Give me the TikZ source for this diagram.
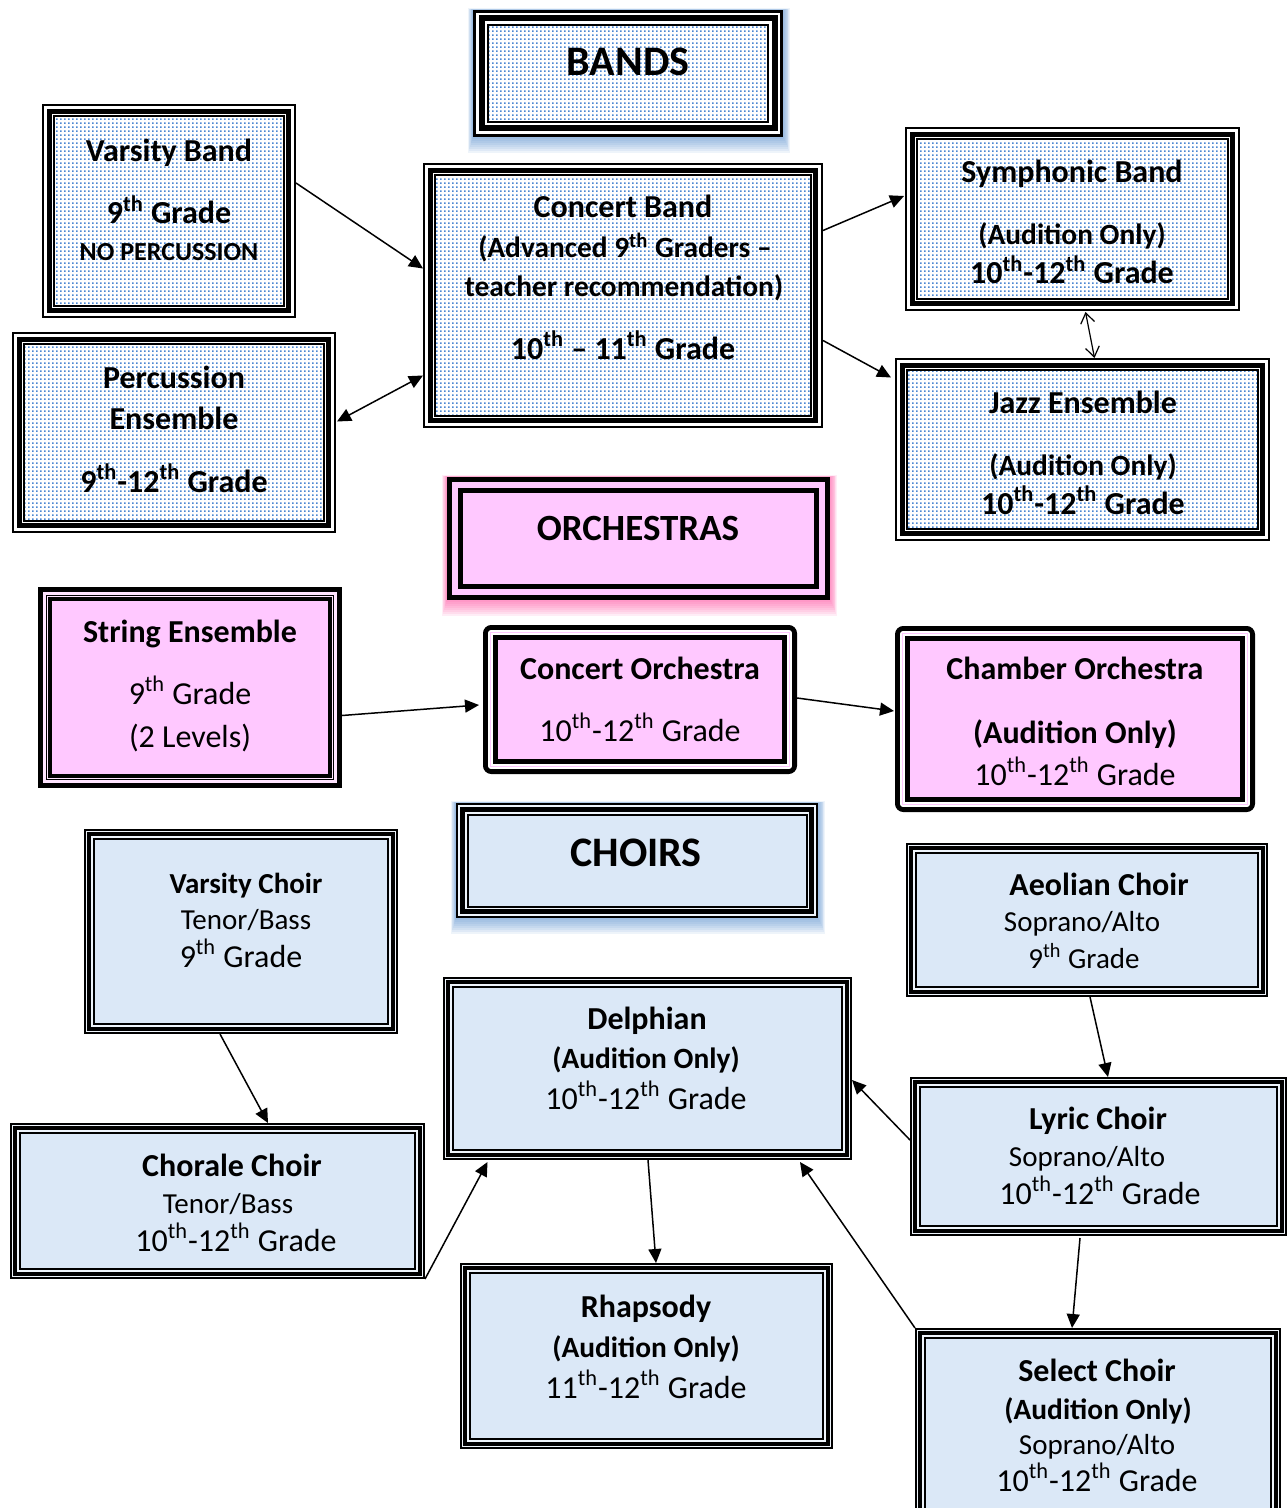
\documentclass[tikz,border=0pt]{standalone}
\usepackage{fontspec}
\setmainfont{Carlito}
\usetikzlibrary{arrows.meta,fit,patterns.meta}
\definecolor{dotblue}{RGB}{75,135,210}
\definecolor{pinkfill}{RGB}{255,200,255}
\definecolor{pinklight}{RGB}{255,228,255}
\definecolor{choirfill}{RGB}{219,232,247}
\definecolor{choirlight}{RGB}{238,244,251}
\definecolor{glowblue}{RGB}{70,130,200}
\definecolor{glowpink}{RGB}{255,60,150}
\tikzdeclarepattern{name=bluedots, type=uncolored,
  bottom left={(0pt,0pt)}, top right={(2pt,2pt)}, tile size={(2pt,2pt)},
  code={\fill (0pt,0pt) rectangle (0.95pt,0.95pt);}}
\newcommand\inrect[3]{\path[#3] ([shift={(#2,#2)}]#1.north west) rectangle ([shift={(-#2,-#2)}]#1.south east);}
\newcommand\glowit[2]{\foreach \i in {1,...,8}{\fill[#2,opacity=0.09] ([shift={(-\i*0.6,-\i*0.2)}]#1.north west) rectangle ([shift={(\i*0.9,\i*2)}]#1.south east);}}
\newcommand\bandbox[5]{%
  \node[box, fit={(#2,#3)(#4,#5)}] (#1) {};
  \inrect{#1}{0}{fill=white}
  \inrect{#1}{12}{pattern=bluedots, pattern color=dotblue}
  \inrect{#1}{1}{draw, line width=1pt}
  \inrect{#1}{7.5}{draw, line width=2.5pt}
  \inrect{#1}{12.4}{draw, line width=1pt}}
\newcommand\choirbox[5]{%
  \node[box, fit={(#2,#3)(#4,#5)}] (#1) {};
  \inrect{#1}{0}{fill=choirlight}
  \inrect{#1}{10}{fill=choirfill}
  \inrect{#1}{0.85}{draw, line width=0.85pt}
  \inrect{#1}{5.2}{draw, line width=1.85pt}
  \inrect{#1}{10}{draw, line width=0.7pt}}
\newcommand\orchbox[5]{%
  \node[box, fit={(#2,#3)(#4,#5)}] (#1) {};
  \inrect{#1}{0}{fill=pinklight}
  \inrect{#1}{10}{fill=pinkfill}
  \inrect{#1}{2.5}{draw, line width=2.5pt}
  \inrect{#1}{8.5}{draw, line width=0.5pt}
  \inrect{#1}{12}{draw, line width=2pt}}
\newcommand\orchround[5]{%
  \node[box, fit={(#2,#3)(#4,#5)}] (#1) {};
  \inrect{#1}{0}{fill=white, rounded corners=4pt}
  \inrect{#1}{10}{fill=pinkfill}
  \inrect{#1}{2.4}{draw, line width=2.4pt, rounded corners=3pt}
  \inrect{#1}{7.5}{draw=pinkfill, line width=0.6pt}
  \inrect{#1}{12.3}{draw, line width=2.3pt}}
\begin{document}
\begin{tikzpicture}[x=0.5pt,y=-0.5pt,
  box/.style={inner sep=0pt, outer sep=0pt},
  ttl/.style={anchor=base, font=\bfseries\fontsize{16}{19}\selectfont},
  aud/.style={anchor=base, font=\bfseries\fontsize{14.7}{18}\selectfont},
  reg/.style={anchor=base, font=\fontsize{16}{19}\selectfont},
  sml/.style={anchor=base, font=\fontsize{14.5}{17}\selectfont},
  smlb/.style={anchor=base, font=\bfseries\fontsize{14.5}{17}\selectfont},
  tiny/.style={anchor=base, font=\bfseries\fontsize{13}{15}\selectfont},
  head/.style={anchor=base, font=\bfseries\fontsize{21}{25}\selectfont},
  conn/.style={line width=0.75pt, -{Triangle[length=7pt,width=6.5pt]}},
  dconn/.style={line width=0.75pt, {Triangle[length=7pt,width=6.5pt]}-{Triangle[length=7pt,width=6.5pt]}},
  oconn/.style={line width=0.6pt, {Straight Barb[length=5pt,width=7pt]}-{Straight Barb[length=5pt,width=7pt]}}]
\useasboundingbox (0,0) rectangle (1287,1508);

% ---------------- BANDS ----------------
\node[box, fit={(473,10)(783,137)}] (bands) {};
\glowit{bands}{glowblue}
\inrect{bands}{0}{fill=white}
\inrect{bands}{16}{pattern=bluedots, pattern color=dotblue}
\inrect{bands}{1.5}{draw, line width=1.5pt}
\inrect{bands}{8.5}{draw, line width=3pt}
\inrect{bands}{15}{draw, line width=1pt}
\node[head] (bandst) at (628,76) {BANDS};

\bandbox{vb}{42}{104}{296}{318}
\node[ttl] (vb1) at (169,162) {Varsity Band};
\node[ttl] (vb2) at (169,224) {9\textsuperscript{th} Grade};
\node[tiny] (vb3) at (169,261) {NO PERCUSSION};

\bandbox{pe}{12}{332}{336}{533}
\node[ttl] (pe1) at (174,388) {Percussion};
\node[ttl] (pe2) at (174,429) {Ensemble};
\node[ttl] (pe3) at (174,492) {9\textsuperscript{th}-12\textsuperscript{th} Grade};

\bandbox{cb}{423}{163}{823}{428}
\node[ttl] (cb1) at (623,218) {Concert Band};
\node[aud] (cb2) at (625,258) {(Advanced 9\textsuperscript{th} Graders –};
\node[aud] (cb3) at (624,297) {teacher recommendation)};
\node[ttl] (cb4) at (623,359) {10\textsuperscript{th} – 11\textsuperscript{th} Grade};

\bandbox{sb}{905}{127}{1240}{311}
\node[ttl] (sb1) at (1072,183) {Symphonic Band};
\node[aud] (sb2) at (1072,245) {(Audition Only)};
\node[ttl] (sb3) at (1072,284) {10\textsuperscript{th}-12\textsuperscript{th} Grade};

\bandbox{je}{895}{358}{1270}{541}
\node[ttl] (je1) at (1083,413) {Jazz Ensemble};
\node[aud] (je2) at (1083,475) {(Audition Only)};
\node[ttl] (je3) at (1083,514) {10\textsuperscript{th}-12\textsuperscript{th} Grade};

% ---------------- ORCHESTRAS ----------------
\node[box, fit={(447,477)(830,600)}] (orch) {};
\glowit{orch}{glowpink}
\inrect{orch}{0}{fill=pinkfill}
\inrect{orch}{2.5}{draw, line width=2.5pt}
\inrect{orch}{13.5}{draw, line width=2.5pt}
\node[head, font=\bfseries\fontsize{18.5}{22}\selectfont] (orcht) at (638,540) {ORCHESTRAS};

\orchbox{se}{38}{587}{342}{788}
\node[ttl] (se1) at (190,642) {String Ensemble};
\node[reg] (se2) at (190,704) {9\textsuperscript{th} Grade};
\node[reg] (se3) at (190,747) {(2 Levels)};

\orchround{co}{483}{625}{797}{774}
\node[ttl] (co1) at (640,679) {Concert Orchestra};
\node[reg] (co2) at (640,741) {10\textsuperscript{th}-12\textsuperscript{th} Grade};

\orchround{ch}{895}{626}{1255}{812}
\node[ttl] (ch1) at (1075,679) {Chamber Orchestra};
\node[ttl] (ch2) at (1075,743) {(Audition Only)};
\node[reg] (ch3) at (1075,785) {10\textsuperscript{th}-12\textsuperscript{th} Grade};

% ---------------- CHOIRS ----------------
\node[box, fit={(456,803)(818,918)}] (choirs) {};
\glowit{choirs}{glowblue}
\inrect{choirs}{0}{fill=choirlight}
\inrect{choirs}{11}{fill=choirfill}
\inrect{choirs}{1}{draw, line width=1pt}
\inrect{choirs}{6.5}{draw, line width=2.5pt}
\inrect{choirs}{11.5}{draw, line width=1pt}
\node[head] (choirst) at (636,866) {CHOIRS};

\choirbox{vc}{84}{829}{398}{1034}
\node[smlb] (vc1) at (246,893) {Varsity Choir};
\node[sml] (vc2) at (246,929) {Tenor/Bass};
\node[reg] (vc3) at (241,967) {9\textsuperscript{th} Grade};

\choirbox{ac}{906}{843}{1268}{997}
\node[ttl] (ac1) at (1099,895) {Aeolian Choir};
\node[sml] (ac2) at (1082,931) {Soprano/Alto};
\node[sml] (ac3) at (1084,968) {9\textsuperscript{th} Grade};

\choirbox{dl}{443}{977}{852}{1160}
\node[ttl] (dl1) at (647,1029) {Delphian};
\node[aud] (dl2) at (646,1068) {(Audition Only)};
\node[reg] (dl3) at (646,1109) {10\textsuperscript{th}-12\textsuperscript{th} Grade};

\choirbox{cc}{10}{1123}{425}{1279}
\node[ttl] (cc1) at (232,1176) {Chorale Choir};
\node[sml] (cc2) at (228,1213) {Tenor/Bass};
\node[reg] (cc3) at (236,1251) {10\textsuperscript{th}-12\textsuperscript{th} Grade};

\choirbox{lc}{910}{1077}{1287}{1236}
\node[ttl] (lc1) at (1098,1129) {Lyric Choir};
\node[sml] (lc2) at (1087,1166) {Soprano/Alto};
\node[reg] (lc3) at (1100,1204) {10\textsuperscript{th}-12\textsuperscript{th} Grade};

\choirbox{rh}{460}{1263}{833}{1449}
\node[ttl] (rh1) at (646,1317) {Rhapsody};
\node[aud] (rh2) at (646,1357) {(Audition Only)};
\node[reg] (rh3) at (646,1398) {11\textsuperscript{th}-12\textsuperscript{th} Grade};

\choirbox{sc}{915}{1328}{1281}{1520}
\node[ttl] (sc1) at (1097,1381) {Select Choir};
\node[aud] (sc2) at (1098,1419) {(Audition Only)};
\node[sml] (sc3) at (1097,1454) {Soprano/Alto};
\node[reg] (sc4) at (1097,1491) {10\textsuperscript{th}-12\textsuperscript{th} Grade};

% ---------------- connectors ----------------
\draw[conn] ([shift={(0,-28)}]vb.east) -- ([shift={(0,-27)}]cb.west);
\draw[dconn] ([shift={(1,-11)}]pe.east) -- ([shift={(0,80)}]cb.west);
\draw[conn] ([shift={(0,-65)}]cb.east) -- ([shift={(-1,-23)}]sb.west);
\draw[conn] ([shift={(0,45)}]cb.east) -- ([shift={(-4,-72)}]je.west);
\draw[oconn] ([shift={(13,1)}]sb.south) -- ([shift={(12,0)}]je.north);
\draw[conn] ([shift={(0,28)}]se.east) -- ([shift={(-4,5.5)}]co.west);
\draw[conn] ([shift={(0,-1.5)}]co.east) -- ([shift={(-1,-8)}]ch.west);
\draw[conn] ([shift={(-21,0)}]vc.south) -- ([shift={(50.5,0)}]cc.north);
\draw[conn] ([shift={(3,0)}]ac.south) -- ([shift={(9.5,0)}]lc.north);
\draw[conn] ([shift={(0,-16.5)}]lc.west) -- ([shift={(0,11.5)}]dl.east);
\draw[conn] (cc.south east) -- ([shift={(-160,2)}]dl.south);
\draw[conn] ([shift={(0.5,0)}]dl.south) -- ([shift={(9.5,0)}]rh.north);
\draw[conn] ([shift={(-18.5,2)}]lc.south) -- ([shift={(-26,0)}]sc.north);
\draw[conn] (sc.north west) -- ([shift={(152.5,2)}]dl.south);
\end{tikzpicture}
\end{document}
